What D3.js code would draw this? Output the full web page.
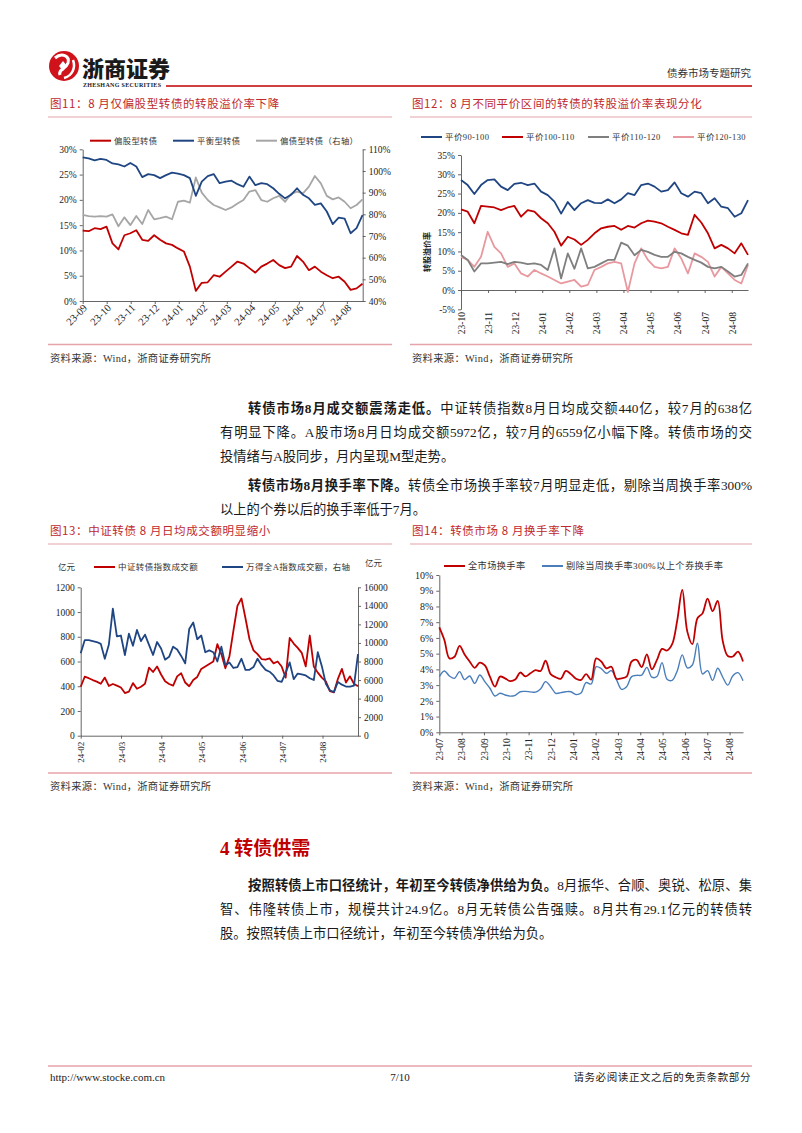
<!DOCTYPE html>
<html>
<head>
<meta charset="utf-8">
<script src="https://cdn.jsdelivr.net/npm/d3@7"></script>
<style>
body { margin: 0; background: #fff; }
#page { position: relative; width: 802px; height: 1133px; overflow: hidden; background: #fff; }
#page svg { position: absolute; left: 0; top: 0; }
.p { position: absolute; font-family: "Liberation Serif", "Noto Sans CJK SC", serif; font-size: 13.3px; color: #1a1a1a; line-height: 20px; white-space: nowrap; }
.p.j { text-align: justify; text-align-last: justify; white-space: normal; }
.p b { font-weight: 700; }
</style>
</head>
<body>
<div id="page"></div>
<script>
// ---------- data ----------
// 图11 (monthly ticks, roughly weekly samples)
const months11 = ["23-09","23-10","23-11","23-12","24-01","24-02","24-03","24-04","24-05","24-06","24-07","24-08"];
const equityPrem = [13.9,13.8,14.4,14.2,14.7,11.4,10.2,13.0,13.4,14.0, 12.1,11.9,13.0,12.1,11.4,11.1,10.4,9.8,6.8,2.0,
  3.6,3.7,5.1,4.8,5.8,6.8,7.8,7.4,6.5,5.6, 6.8,7.4,8.1,7.1,6.5,6.8,8.9,7.8,6.1,6.8, 5.8,5.1,4.5,4.8,3.8,2.2,2.5,3.4];
const balancedPrem = [28.4,28.2,27.8,28.1,27.9,27.2,27.0,26.6,27.3,26.6, 24.5,25.1,24.9,24.3,24.9,25.4,25.2,24.9,24.3,20.8,
  23.6,24.7,25.1,23.3,23.6,23.8,23.1,22.6,24.6,22.9, 23.3,23.1,22.3,21.2,20.3,21.0,22.3,21.0,20.3,19.0, 19.3,17.7,15.2,16.5,16.3,13.4,14.4,17.0];
const debtPrem = [79.7,79.2,78.9,79.2,78.9,80.0,74.5,78.6,75.0,79.2, 75.5,82.0,77.7,78.2,78.9,77.7,85.8,86.3,85.4,97.0,
  90.0,86.6,84.3,83.2,82.0,83.2,85.0,86.6,90.5,91.2, 86.6,85.8,87.4,88.5,85.8,89.4,90.5,89.7,92.8,97.7, 94.3,88.5,86.9,87.8,85.8,82.8,84.3,86.9];

// 图12
const months12 = ["23-10","23-11","23-12","24-01","24-02","24-03","24-04","24-05","24-06","24-07","24-08"];
const parity90 = [28.5,27.2,24.9,27.2, 28.5,28.7,26.8,25.9, 27.5,27.8,27.2,27.6, 25.5,24.6,22.9,19.8, 22.8,20.7,22.5,23.3,
  22.6,22.5,23.5,22.5, 23.5,25.1,24.6,27.2, 27.6,26.8,25.5,25.9, 27.9,25.1,24.2,25.5, 25.1,22.5,23.8,21.6, 21.2,19.0,19.9,23.3];
const parity100 = [20.9,20.3,17.3,21.8, 21.6,21.4,20.7,21.4, 21.8,19.0,20.7,20.3, 18.6,17.3,15.1,11.5, 13.8,13.1,11.7,13.0,
  14.7,16.0,16.4,16.6, 15.6,16.6,16.2,17.3, 18.0,17.7,17.3,16.4, 15.6,14.7,14.3,19.5, 17.5,14.7,10.8,11.7, 10.8,9.5,12.1,9.1];
const parity110 = [9.1,7.8,4.8,6.9, 6.9,7.1,7.3,6.7, 7.3,7.1,6.7,6.9, 6.5,5.2,10.8,3.0, 9.5,5.5,10.8,5.6,
  6.0,6.9,7.8,7.8, 12.3,11.5,9.0,10.4, 9.9,9.1,8.6,8.6, 9.9,9.5,8.6,7.8, 7.1,6.0,5.6,6.0, 4.8,3.5,3.9,6.9];
const parity120 = [8.6,7.8,6.0,8.6, 15.1,11.2,9.5,6.0, 6.9,4.3,3.5,5.2, 4.3,3.5,2.6,1.7, 2.2,2.6,0.9,1.3,
  5.2,6.0,6.9,7.3, 6.9,-0.5,6.9,10.8, 7.8,6.0,5.6,6.0, 10.8,8.2,4.3,9.5, 8.6,7.3,3.5,6.0, 4.3,2.6,1.7,6.5];

// 图13 (亿元)
const months13 = ["24-02","24-03","24-04","24-05","24-06","24-07","24-08"];
const cbVolume = [396,477,465,450,437,420,470,402,418,405, 390,345,356,425,380,396,420,550,515,560,
  495,440,418,405,480,505,430,400,450,475, 540,560,580,600,740,660,545,640,850,1050,
  1110,950,780,690,660,620,615,625,585,600, 560,470,790,745,710,670,560,810,560,510,
  470,440,360,350,460,540,430,480,420,400];
const aVolume = [8880,10300,10300,10200,10100,9900,8300,9800,13700,10700, 10800,8700,11000,9700,11400,10200,10900,9800,8700,10100,
  9400,8200,8500,9600,9300,8600,7800,11500,12200,10400, 10800,9000,9200,9000,8000,9600,7600,7900,7300,7400,
  8300,7100,7100,7400,8300,7600,7100,6900,6500,5900, 5800,6800,7900,6100,6700,6600,6500,6200,6000,9000,
  7500,5600,4900,4700,5800,5500,5300,5300,5400,8800];

// 图14 (weekly, %)
const months14 = ["23-07","23-08","23-09","23-10","23-11","23-12","24-01","24-02","24-03","24-04","24-05","24-06","24-07","24-08"];
const turnoverAll = [6.67,5.87,4.7,4.8,5.5,4.95,4.5,4.1,4.43,4.25, 3.54,2.9,3.54,3.43,3.25,3.35,3.8,3.55,3.75,3.95,
  3.9,4.55,3.7,3.5,3.4,3.9,3.7,3.4,3.33,3.7, 3.35,4.7,4.5,4.07,4.17,3.4,3.43,3.54,4.5,4.6,
  4.15,4.95,4.0,4.6,5.3,5.2,5.6,7.1,9.05,6.4, 5.6,7.25,7.56,8.5,7.7,8.35,5.8,4.85,4.82,5.13, 4.5];
const turnoverEx = [3.54,3.9,3.58,3.43,3.86,3.35,3.58,3.11,3.64,3.22, 2.8,2.31,2.48,2.37,2.3,2.35,2.58,2.6,2.57,2.55,
  2.75,3.22,2.9,2.48,2.52,2.58,2.58,2.4,2.5,3.16, 3.07,4.17,4.05,3.75,3.92,3.35,2.73,2.9,3.54,3.62,
  3.64,4.13,3.5,3.55,4.43,3.37,3.3,3.9,4.92,4.1, 4.28,5.66,3.71,3.92,3.3,4.07,3.5,3.0,3.6,3.79, 3.28];

// ---------- page ----------
const SERIF = '"Liberation Serif","Noto Sans CJK SC",serif';
const CJK = '"Noto Sans CJK SC","Liberation Serif",sans-serif';
const RED = "#c00000", NAVY = "#1f4682", PINK_LINE = "#e6a3aa";
const pct = d => d + "%";

const page = d3.select("#page");
const svg = page.append("svg").attr("width", 802).attr("height", 1133);

// header / logo
const logo = svg.append("g").attr("transform", "translate(64,66)");
logo.append("circle").attr("r", 15).attr("fill", "#d0121b");
logo.append("path").attr("d", "M-9,-8 C-2,-14 6,-10 4,-3 C2,3 -6,3 -4,9").attr("fill", "none").attr("stroke", "#fff").attr("stroke-width", 3);
logo.append("path").attr("d", "M9,-6 C12,2 8,10 0,12").attr("fill", "none").attr("stroke", "#fff").attr("stroke-width", 2.5);
logo.append("path").attr("d", "M-1,-5 L3,0 L-1,5 L-5,0 Z").attr("fill", "#fff");
svg.append("text").attr("x", 82).attr("y", 77).text("浙商证券")
  .attr("font-family", CJK).attr("font-size", 22).attr("font-weight", 900).attr("fill", "#1a1a1a");
svg.append("text").attr("x", 83).attr("y", 86.5).text("ZHESHANG SECURITIES")
  .attr("font-family", SERIF).attr("font-size", 6).attr("font-weight", 700).attr("textLength", 78).attr("fill", "#1a1a1a");
svg.append("text").attr("x", 751).attr("y", 77).attr("text-anchor", "end").text("债券市场专题研究")
  .attr("font-family", CJK).attr("font-size", 10.5).attr("fill", "#333");
svg.append("line").attr("x1", 166).attr("x2", 752).attr("y1", 86).attr("y2", 86).attr("stroke", RED).attr("stroke-width", 1.6);

function chartTitle(x, x2, y, label) {
  svg.append("text").attr("x", x).attr("y", y + 4).text(label)
    .attr("font-family", CJK).attr("font-size", 11.5).attr("letter-spacing", 0.6).attr("fill", "#c0282d");
  svg.append("line").attr("x1", x - 2).attr("x2", x2).attr("y1", y + 13).attr("y2", y + 13).attr("stroke", PINK_LINE).attr("stroke-width", 1.2);
}
function source(x, x2, y) {
  svg.append("line").attr("x1", x - 2).attr("x2", x2).attr("y1", y).attr("y2", y).attr("stroke", PINK_LINE).attr("stroke-width", 1.6);
  svg.append("text").attr("x", x).attr("y", y + 17).text("资料来源：Wind，浙商证券研究所")
    .attr("font-family", SERIF).attr("font-size", 10.3).attr("letter-spacing", 0.3).attr("fill", "#333");
}
chartTitle(50, 392, 104, "图11：8 月仅偏股型转债的转股溢价率下降");
chartTitle(412, 752, 104, "图12：8 月不同平价区间的转债的转股溢价率表现分化");
chartTitle(50, 392, 531, "图13：中证转债 8 月日均成交额明显缩小");
chartTitle(412, 752, 531, "图14：转债市场 8 月换手率下降");
source(50, 392, 344.5);
source(412, 752, 344.5);
source(50, 392, 773);
source(412, 752, 773);

// ---------- helpers ----------
function styleAxis(g, fs) {
  g.selectAll("path,line").attr("stroke", "#555").attr("stroke-width", 0.9);
  g.selectAll("text").attr("font-family", SERIF).attr("font-size", fs).attr("fill", "#222");
}
function yAxis(x0, scale, ticks, fmt, right, fs) {
  const ax = (right ? d3.axisRight(scale) : d3.axisLeft(scale))
    .tickValues(ticks).tickFormat(fmt).tickSize(3).tickSizeOuter(0).tickPadding(3);
  const g = svg.append("g").attr("transform", `translate(${x0},0)`).call(ax);
  styleAxis(g, fs);
}
function xAxis(y0, scale, months, labelOffset, angle, fs) {
  const ax = d3.axisBottom(scale).tickValues(d3.range(months.length))
    .tickFormat(i => months[i]).tickSize(3).tickSizeOuter(0);
  const g = svg.append("g").attr("transform", `translate(0,${y0})`).call(ax);
  styleAxis(g, fs);
  g.selectAll(".tick text")
    .attr("x", 0).attr("y", 0).attr("dy", "0.35em").attr("text-anchor", "end")
    .attr("transform", `translate(${angle === -45 ? 2 : 0},${labelOffset}) rotate(${angle})`);
}
function series(data, span, x, y, color, width, curve) {
  const step = span / (data.length - 1);
  svg.append("path").datum(data)
    .attr("fill", "none").attr("stroke", color).attr("stroke-width", width)
    .attr("stroke-linejoin", "round")
    .attr("d", d3.line().x((d, i) => x(i * step)).y(d => y(d)).curve(curve || d3.curveLinear));
}
function legend(items, y, fs) {
  items.forEach(it => {
    svg.append("line").attr("x1", it.x).attr("x2", it.x + 21).attr("y1", y).attr("y2", y)
      .attr("stroke", it.color).attr("stroke-width", 2);
    svg.append("text").attr("x", it.x + 24).attr("y", y).attr("dy", "0.35em").text(it.label)
      .attr("font-family", SERIF).attr("font-size", fs).attr("letter-spacing", 0.4).attr("fill", "#333");
  });
}

// ---------- 图11 ----------
{
  const x = d3.scaleLinear().domain([0, 11.65]).range([82.7, 362.5]);
  const yL = d3.scaleLinear().domain([0, 30]).range([301, 149.3]);
  const yR = d3.scaleLinear().domain([40, 110]).range([301, 149.3]);
  xAxis(301, x, months11, 5, -45, 10.5);
  yAxis(82.7, yL, d3.range(0, 31, 5), pct, false, 9.5);
  yAxis(362.7, yR, d3.range(40, 111, 10), pct, true, 9.5);
  series(debtPrem, 11.65, x, yR, "#a6a6a6", 1.8);
  series(balancedPrem, 11.65, x, yL, NAVY, 1.8);
  series(equityPrem, 11.65, x, yL, RED, 1.8);
  legend([
    { x: 90, color: RED, label: "偏股型转债" },
    { x: 173, color: NAVY, label: "平衡型转债" },
    { x: 256, color: "#a6a6a6", label: "偏债型转债（右轴）" }
  ], 140.7, 8.3);
}

// ---------- 图12 ----------
{
  const x = d3.scaleLinear().domain([0, 10.6]).range([461, 748]);
  const y = d3.scaleLinear().domain([-5, 35]).range([309.3, 155]);
  yAxis(461, y, d3.range(-5, 36, 5), pct, false, 9.5);
  xAxis(y(0), x, months12, 312 - y(0), -90, 9.5);
  series(parity120, 10.6, x, y, "#e8999f", 1.8);
  series(parity110, 10.6, x, y, "#7f7f7f", 1.8);
  series(parity100, 10.6, x, y, RED, 1.8);
  series(parity90, 10.6, x, y, NAVY, 1.8);
  legend([
    { x: 421, color: NAVY, label: "平价90-100" },
    { x: 502, color: RED, label: "平价100-110" },
    { x: 588, color: "#7f7f7f", label: "平价110-120" },
    { x: 673, color: "#e8999f", label: "平价120-130" }
  ], 137, 8.5);
  svg.append("text").attr("transform", "translate(430,252) rotate(-90)").attr("text-anchor", "middle")
    .text("转股溢价率").attr("font-family", CJK).attr("font-size", 8).attr("font-weight", 700).attr("fill", "#222");
}

// ---------- 图13 ----------
{
  const x = d3.scaleLinear().domain([0, 6.88]).range([80.7, 358]);
  const yL = d3.scaleLinear().domain([0, 1200]).range([735.7, 587.3]);
  const yR = d3.scaleLinear().domain([0, 16000]).range([735.7, 587.3]);
  xAxis(735.7, x, months13, 6, -90, 9);
  yAxis(80.7, yL, d3.range(0, 1201, 200), d => d, false, 9.5);
  yAxis(358, yR, d3.range(0, 16001, 2000), d => d, true, 9.5);
  series(cbVolume, 6.88, x, yL, RED, 1.8);
  series(aVolume, 6.88, x, yR, NAVY, 1.8);
  legend([
    { x: 94, color: RED, label: "中证转债指数成交额" },
    { x: 222, color: NAVY, label: "万得全A指数成交额，右轴" }
  ], 567, 8.5);
  svg.append("text").attr("x", 58).attr("y", 567).attr("dy", "0.35em").text("亿元")
    .attr("font-family", CJK).attr("font-size", 8.5).attr("fill", "#333");
  svg.append("text").attr("x", 365).attr("y", 563).attr("dy", "0.35em").text("亿元")
    .attr("font-family", CJK).attr("font-size", 8.5).attr("fill", "#333");
}

// ---------- 图14 ----------
{
  const x = d3.scaleLinear().domain([0, 13.6]).range([439.3, 743]);
  const y = d3.scaleLinear().domain([0, 10]).range([732.3, 575]);
  xAxis(732.3, x, months14, 6, -90, 9.5);
  yAxis(439.3, y, d3.range(0, 11, 1), pct, false, 10);
  series(turnoverEx, 13.6, x, y, "#4a7ebb", 1.4, d3.curveCatmullRom.alpha(0.5));
  series(turnoverAll, 13.6, x, y, RED, 1.8, d3.curveCatmullRom.alpha(0.5));
  legend([
    { x: 444, color: RED, label: "全市场换手率" },
    { x: 542, color: "#4a7ebb", label: "剔除当周换手率300%以上个券换手率" }
  ], 566, 9.2);
}

// ---------- body text ----------
const lines = [
  { x: 248, y: 399, w: 504, j: true, h: "<b>转债市场8月成交额震荡走低。</b>中证转债指数8月日均成交额440亿，较7月的638亿" },
  { x: 220, y: 423, w: 532, j: true, h: "有明显下降。A股市场8月日均成交额5972亿，较7月的6559亿小幅下降。转债市场的交" },
  { x: 220, y: 447, w: 532, j: false, h: "投情绪与A股同步，月内呈现M型走势。" },
  { x: 248, y: 476, w: 504, j: true, h: "<b>转债市场8月换手率下降。</b>转债全市场换手率较7月明显走低，剔除当周换手率300%" },
  { x: 220, y: 500, w: 532, j: false, h: "以上的个券以后的换手率低于7月。" },
  { x: 248, y: 876, w: 504, j: true, h: "<b>按照转债上市口径统计，年初至今转债净供给为负。</b>8月振华、合顺、奥锐、松原、集" },
  { x: 220, y: 900, w: 532, j: true, h: "智、伟隆转债上市，规模共计24.9亿。8月无转债公告强赎。8月共有29.1亿元的转债转" },
  { x: 220, y: 924, w: 532, j: false, h: "股。按照转债上市口径统计，年初至今转债净供给为负。" }
];
lines.forEach(l => {
  page.append("div").attr("class", "p" + (l.j ? " j" : ""))
    .style("left", l.x + "px").style("top", l.y + "px").style("width", l.w + "px")
    .html(l.h);
});

svg.append("text").attr("x", 220).attr("y", 855).text("4 转债供需")
  .attr("font-family", SERIF).attr("font-size", 19).attr("font-weight", 700).attr("fill", RED);

// footer
svg.append("line").attr("x1", 48).attr("x2", 752).attr("y1", 1066).attr("y2", 1066).attr("stroke", PINK_LINE).attr("stroke-width", 1.6);
svg.append("text").attr("x", 50).attr("y", 1081).text("http://www.stocke.com.cn")
  .attr("font-family", SERIF).attr("font-size", 11).attr("fill", "#222");
svg.append("text").attr("x", 400).attr("y", 1081).attr("text-anchor", "middle").text("7/10")
  .attr("font-family", SERIF).attr("font-size", 11).attr("fill", "#222");
svg.append("text").attr("x", 751).attr("y", 1081).attr("text-anchor", "end").text("请务必阅读正文之后的免责条款部分")
  .attr("font-family", CJK).attr("font-size", 10.5).attr("letter-spacing", 0.6).attr("fill", "#222");
</script>
</body>
</html>
